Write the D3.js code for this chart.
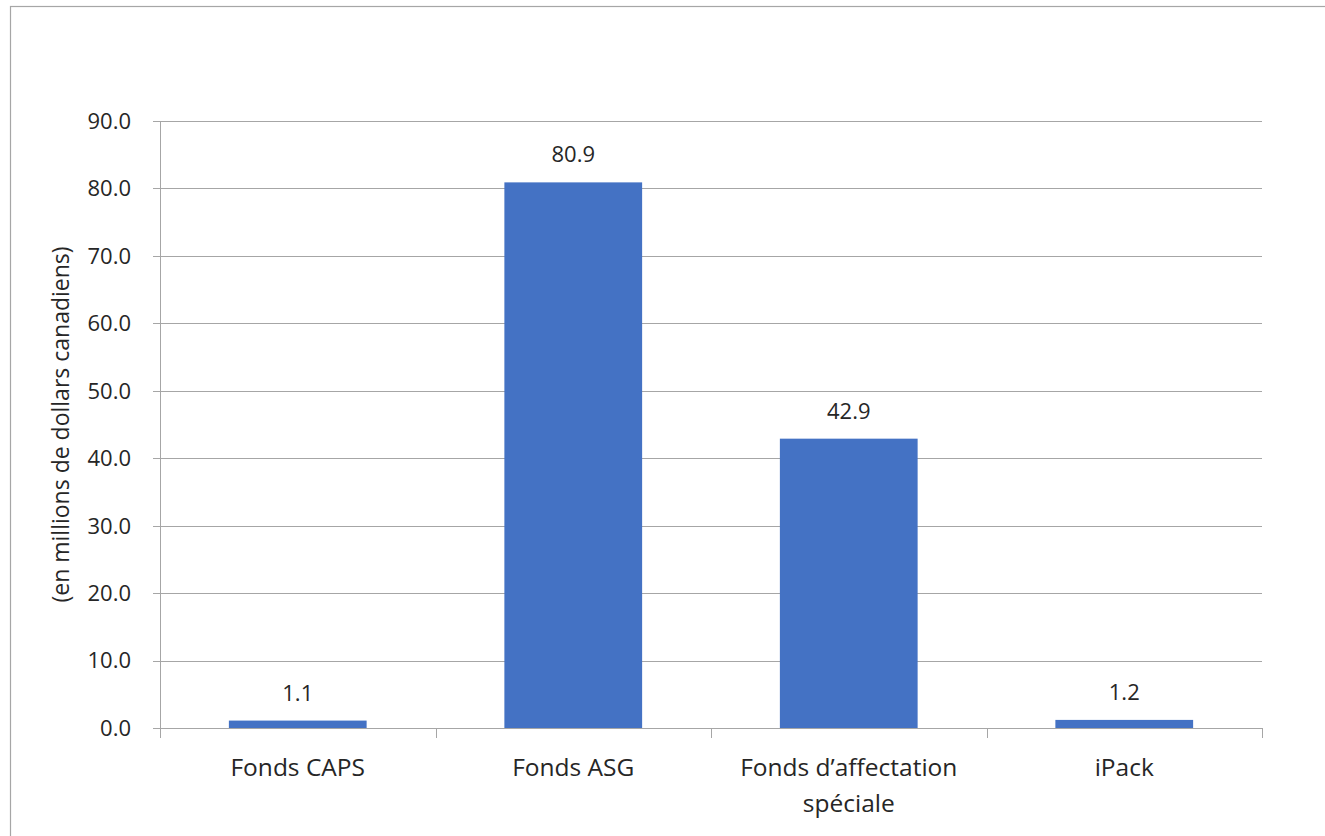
<!DOCTYPE html>
<html>
<head>
<meta charset="utf-8">
<script src="https://cdn.jsdelivr.net/npm/d3@7"></script>
<style>
  html, body { margin: 0; padding: 0; background: #fff; }
  svg { display: block; }
  text { font-family: "Open Sans", "Liberation Sans", sans-serif; fill: #262626; }
</style>
</head>
<body>
<svg id="chart" width="1325" height="836"></svg>
<script>
// Fund names (categories) and amounts in millions of Canadian dollars
const categories = ["Fonds CAPS", "Fonds ASG", "Fonds d’affectation spéciale", "iPack"];
const categoryLines = [["Fonds CAPS"], ["Fonds ASG"], ["Fonds d’affectation", "spéciale"], ["iPack"]];
const amounts = [1.1, 80.9, 42.9, 1.2];
const yTicks = [0, 10, 20, 30, 40, 50, 60, 70, 80, 90];
const yTitle = "(en millions de dollars canadiens)";

const svg = d3.select("#chart");
const W = 1325, H = 836;
const margin = { left: 160, right: 63, top: 121, bottom: 108 };
const plotW = W - margin.left - margin.right;
const plotH = H - margin.top - margin.bottom;

// Outer chart border
svg.append("rect")
  .attr("x", 10.5).attr("y", 6.5)
  .attr("width", W + 10).attr("height", H + 10)
  .attr("fill", "none").attr("stroke", "#a6a6a6").attr("stroke-width", 1.2);

const g = svg.append("g").attr("transform", `translate(${margin.left},${margin.top})`);

const x = d3.scaleBand().domain(categories).range([0, plotW]).paddingInner(0.5).paddingOuter(0.25);
const y = d3.scaleLinear().domain([0, 90]).range([plotH, 0]);

// Horizontal gridlines with short tick stubs to the left
g.append("g")
  .selectAll("line")
  .data(yTicks)
  .join("line")
  .attr("x1", -7).attr("x2", plotW)
  .attr("y1", d => Math.round(y(d)) + 0.5).attr("y2", d => Math.round(y(d)) + 0.5)
  .attr("stroke", "#a6a6a6").attr("stroke-width", 1);

// Y axis labels
g.append("g")
  .selectAll("text")
  .data(yTicks)
  .join("text")
  .attr("x", -29).attr("y", d => y(d))
  .attr("dy", "0.36em")
  .attr("text-anchor", "end")
  .style("font-size", "22px")
  .text(d => d.toFixed(1));

// Y axis line
g.append("line")
  .attr("x1", 0.5).attr("x2", 0.5).attr("y1", 0).attr("y2", plotH)
  .attr("stroke", "#a6a6a6");

// X axis line with category boundary ticks
g.append("line")
  .attr("x1", 0).attr("x2", plotW).attr("y1", plotH + 0.5).attr("y2", plotH + 0.5)
  .attr("stroke", "#a6a6a6");
const step = plotW / categories.length;
g.append("g")
  .selectAll("line")
  .data(d3.range(categories.length + 1))
  .join("line")
  .attr("x1", i => Math.round(i * step) + 0.5).attr("x2", i => Math.round(i * step) + 0.5)
  .attr("y1", plotH).attr("y2", plotH + 10)
  .attr("stroke", "#a6a6a6");

// Bars
g.append("g")
  .selectAll("rect")
  .data(amounts)
  .join("rect")
  .attr("x", (d, i) => x(categories[i]))
  .attr("y", d => y(d))
  .attr("width", x.bandwidth())
  .attr("height", d => y(0) - y(d))
  .attr("fill", "#4472c4");

// Value labels above bars
g.append("g")
  .selectAll("text")
  .data(amounts)
  .join("text")
  .attr("x", (d, i) => x(categories[i]) + x.bandwidth() / 2)
  .attr("y", d => y(d) - 20)
  .attr("text-anchor", "middle")
  .style("font-size", "22px")
  .text(d => d.toFixed(1));

// Category labels (wrapped)
const catG = g.append("g");
categoryLines.forEach((lines, i) => {
  const cx = x(categories[i]) + x.bandwidth() / 2;
  const t = catG.append("text")
    .attr("x", cx)
    .attr("y", plotH + 48)
    .attr("text-anchor", "middle")
    .style("font-size", "24.5px");
  lines.forEach((ln, j) => {
    t.append("tspan")
      .attr("x", cx)
      .attr("dy", j === 0 ? 0 : 36)
      .text(ln);
  });
});

// Y axis title
svg.append("text")
  .attr("transform", `translate(69,${margin.top + plotH / 2}) rotate(-90)`)
  .attr("text-anchor", "middle")
  .style("font-size", "23px")
  .text(yTitle);
</script>
</body>
</html>
